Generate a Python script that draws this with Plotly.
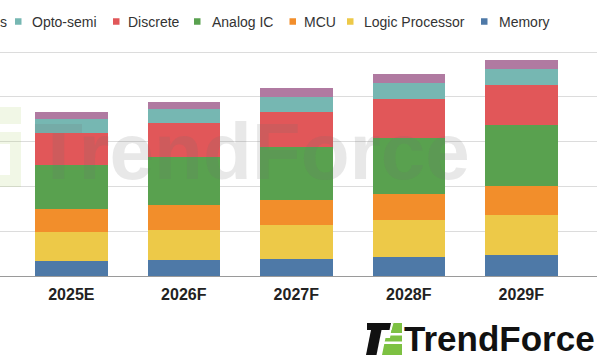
import plotly.graph_objects as go

# ---------------- data ----------------
years = ["2025E", "2026F", "2027F", "2028F", "2029F"]
memory = [3.4, 3.5, 3.7, 4.2, 4.8]
logic_processor = [6.4, 6.7, 7.6, 8.2, 8.9]
mcu = [5.1, 5.6, 5.6, 6.0, 6.3]
analog_ic = [9.9, 10.8, 11.9, 12.5, 13.6]
discrete = [7.2, 7.6, 7.8, 8.7, 9.1]
opto_semi = [3.0, 3.1, 3.4, 3.5, 3.6]
sensors = [1.5, 1.6, 1.9, 1.9, 2.0]

series_names = ["Memory", "Logic Processor", "MCU", "Analog IC", "Discrete", "Opto-semi", "Sensors"]
series_values = [memory, logic_processor, mcu, analog_ic, discrete, opto_semi, sensors]
colors = ["#4e79a7", "#edc948", "#f28e2b", "#59a14f", "#e15759", "#76b7b2", "#b07aa1"]

# ---------------- layout geometry (pixels) ----------------
W, H = 607, 357
ML, MR, MT, MB = 0, 10, 40, 81
PW = W - ML - MR
PH = H - MT - MB
BASE = H - MB


def px(x):
    return (x - ML) / PW


def py(y):
    return (BASE - y) / PH


fig = go.Figure()
for name, vals, col in zip(series_names, series_values, colors):
    fig.add_trace(go.Bar(x=years, y=vals, name=name, marker=dict(color=col, line=dict(width=0)),
                         showlegend=False, hoverinfo="skip"))

shapes = []
annotations = []

# manual legend (reverse order, as in reference)
legend_order = ["Sensors", "Opto-semi", "Discrete", "Analog IC", "MCU", "Logic Processor", "Memory"]
legend_marker_x = [-30, 15, 113, 194, 289.5, 347, 481]
legend_text_x = [-52, 29.5, 126, 209.5, 301.5, 362, 496.5]
LEG_Y = 21.5
MS = 6.5
for name, mx, tx in zip(legend_order, legend_marker_x, legend_text_x):
    col = colors[series_names.index(name)]
    if name == "Sensors":
        # only the tail of this first legend entry is visible at the left edge
        annotations.append(dict(text="s", xref="paper", yref="paper", x=px(-2), y=py(LEG_Y),
                                xanchor="left", yanchor="middle", showarrow=False,
                                font=dict(size=14, color="#333333", family="Liberation Sans, Arial")))
        continue
    shapes.append(dict(type="rect", xref="paper", yref="paper",
                       x0=px(mx), x1=px(mx + MS), y0=py(LEG_Y + MS / 2), y1=py(LEG_Y - MS / 2),
                       fillcolor=col, line=dict(width=0), layer="above"))
    annotations.append(dict(text=name, xref="paper", yref="paper", x=px(tx), y=py(LEG_Y),
                            xanchor="left", yanchor="middle", showarrow=False,
                            font=dict(size=14, color="#333333", family="Liberation Sans, Arial")))

# watermark
annotations.append(dict(text="<b>TrendForce</b>", xref="paper", yref="paper", x=px(252), y=py(151),
                        xanchor="center", yanchor="middle", showarrow=False,
                        font=dict(size=80, color="rgba(110,110,110,0.16)", family="Liberation Sans, Arial")))
# faint watermark icon on the left
shapes.append(dict(type="path", xref="paper", yref="paper",
                   path=("M{},{} L{},{} L{},{} L{},{} Z".format(px(0), py(107), px(21), py(107), px(21), py(124), px(0), py(124))),
                   fillcolor="rgba(160,200,90,0.15)", line=dict(width=0), layer="above"))
shapes.append(dict(type="path", xref="paper", yref="paper",
                   path=("M{},{} L{},{} L{},{} L{},{} L{},{} L{},{} L{},{} L{},{} Z".format(
                       px(0), py(132), px(21), py(132), px(21), py(187), px(0), py(187),
                       px(0), py(175), px(10), py(175), px(10), py(144), px(0), py(144))),
                   fillcolor="rgba(160,200,90,0.15)", line=dict(width=0), layer="above"))

# bottom logo icon
def poly(points, color):
    d = "M" + " L".join("{},{}".format(px(a), py(b)) for a, b in points) + " Z"
    return dict(type="path", xref="paper", yref="paper", path=d, fillcolor=color,
                line=dict(width=0), layer="above")

shapes.append(poly([(367, 323), (391, 323), (389.5, 330), (367, 330)], "#111111"))
shapes.append(poly([(371, 330), (381.5, 330), (376.5, 355), (366, 355)], "#111111"))
shapes.append(poly([(392.5, 323), (402, 323), (402, 355), (382, 355), (385.5, 338), (390, 338)], "#7dc142"))
shapes.append(poly([(384.5, 333), (402, 333), (402, 335.5), (384, 335.5)], "#ffffff"))
shapes.append(poly([(383, 341.5), (402, 341.5), (402, 344), (382.5, 344)], "#ffffff"))
shapes.append(poly([(390.5, 330), (392.5, 323), (393.5, 323), (391.5, 330)], "#ffffff"))

annotations.append(dict(text="<b>TrendForce</b>", xref="paper", yref="paper", x=px(402), y=py(338),
                        xanchor="left", yanchor="middle", showarrow=False,
                        font=dict(size=35, color="#111111", family="Liberation Sans, Arial")))

fig.update_layout(
    width=W, height=H,
    margin=dict(l=ML, r=MR, t=MT, b=MB),
    paper_bgcolor="white", plot_bgcolor="white",
    barmode="stack", bargap=0.356,
    showlegend=False, hovermode=False,
    shapes=shapes, annotations=annotations,
    xaxis=dict(range=[-0.634, 4.673], showgrid=False, showline=True, linecolor="#9a9a9a", linewidth=1,
               ticks="", tickfont=dict(size=16, color="#222222", family="Liberation Sans, Arial"),
               tickprefix="<b>", ticksuffix="</b>", ticklabelstandoff=4),
    yaxis=dict(range=[0, PH / 44.8 * 10], dtick=10, showgrid=True, gridcolor="#dcdcdc", gridwidth=1,
               showticklabels=False, zeroline=False, ticks=""),
)

fig.write_html("out.html", config={"displayModeBar": False},
               post_script="document.body.style.margin='0';document.body.style.overflow='hidden';")
